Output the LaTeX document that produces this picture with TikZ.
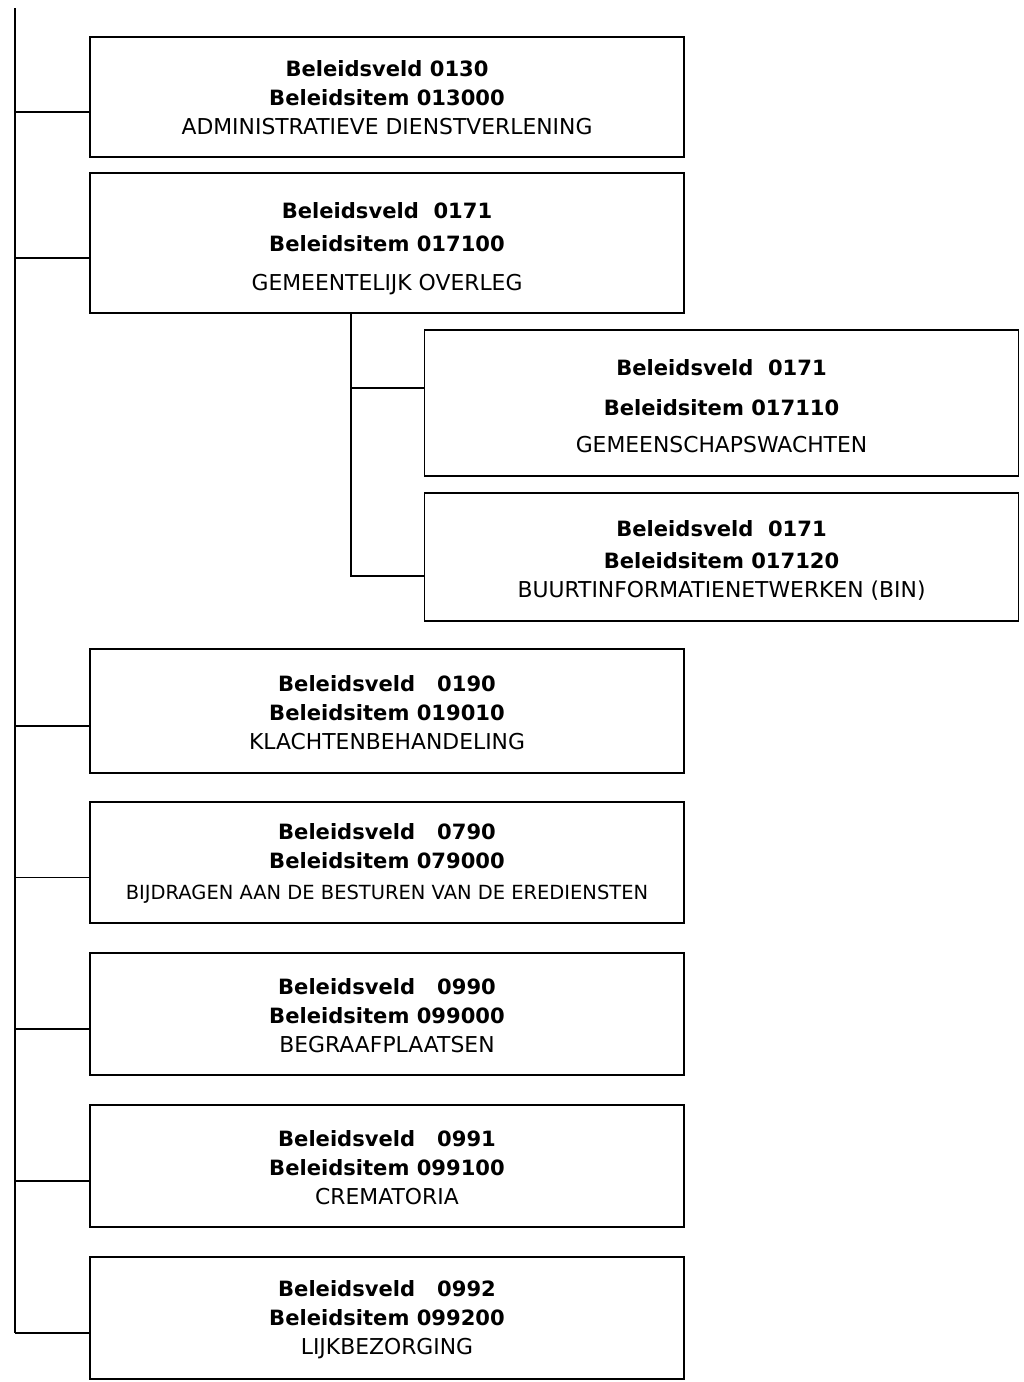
\documentclass[tikz,border=0pt]{standalone}
\usepackage{fontspec}
\setmainfont{DejaVu Sans}
\usepackage{tikz}
\usetikzlibrary{calc}
\usetikzlibrary{positioning}

\newcommand{\kop}[1]{{\fontsize{15.8}{21.75}\selectfont\bfseries #1}}
\newcommand{\zak}[1]{\rule{0pt}{#1}}

\begin{document}
\begin{tikzpicture}[x=0.75pt, y=-0.75pt,
    font=\fontsize{16.4}{21.75}\selectfont,
    box/.style={draw, line width=1.4pt, rectangle, minimum width=445.5pt, align=center, inner sep=0pt},
    tak/.style={line width=1.4pt}]
    \useasboundingbox (0,0) rectangle (1024,1382);
    % hoofdposten
    \node[box, minimum height=90pt] (b1) at (387,97) {\zak{13pt}\kop{Beleidsveld 0130}\\ \kop{Beleidsitem 013000}\\ ADMINISTRATIEVE DIENSTVERLENING};
    \node[box, minimum height=105pt] (b2) at (387,243) {\zak{21pt}\kop{Beleidsveld~~0171}\\[3pt] \kop{Beleidsitem 017100}\\[7.5pt] GEMEENTELIJK OVERLEG};
    % subposten van 0171
    \node[box, minimum height=109.5pt] (b3) at (721.5,403) {\zak{16.5pt}\kop{Beleidsveld~~0171}\\[8.25pt] \kop{Beleidsitem 017110}\\[6pt] GEMEENSCHAPSWACHTEN};
    \node[box, minimum height=96pt] (b4) at (721.5,557) {\zak{16.5pt}\kop{Beleidsveld~~0171}\\[2.25pt] \kop{Beleidsitem 017120}\\ BUURTINFORMATIENETWERKEN (BIN)};
    % overige posten
    \node[box, minimum height=93pt] (b5) at (387,711) {\zak{14pt}\kop{Beleidsveld~~~0190}\\ \kop{Beleidsitem 019010}\\ KLACHTENBEHANDELING};
    \node[box, minimum height=90.75pt] (b6) at (387,862.5) {\zak{14pt}\kop{Beleidsveld~~~0790}\\ \kop{Beleidsitem 079000}\\[1.5pt] {\fontsize{14.6}{17}\selectfont BIJDRAGEN AAN DE BESTUREN VAN DE EREDIENSTEN}};
    \node[box, minimum height=91.5pt] (b7) at (387,1014) {\zak{14pt}\kop{Beleidsveld~~~0990}\\ \kop{Beleidsitem 099000}\\ BEGRAAFPLAATSEN};
    \node[box, minimum height=91.5pt] (b8) at (387,1166) {\zak{14pt}\kop{Beleidsveld~~~0991}\\ \kop{Beleidsitem 099100}\\ CREMATORIA};
    \node[box, minimum height=91.5pt] (b9) at (387,1318) {\zak{15pt}\kop{Beleidsveld~~~0992}\\ \kop{Beleidsitem 099200}\\ LIJKBEZORGING};
    % aansluitpunten
    \foreach \i in {1,2,5,6,7,8,9} {
        \coordinate (j\i) at ([yshift=-11.25pt]b\i.west);
    }
    \coordinate (j3) at ([yshift=11.25pt]b3.west);
    \coordinate (j4) at ([yshift=-14.25pt]b4.west);
    % hoofdlijn
    \coordinate (top) at (15,8);
    \draw[tak] (top) -- (j9 -| top);
    \foreach \i in {1,2,5,6,7,8,9} {
        \draw[tak] (j\i -| top) -- (j\i);
    }
    % sublijn
    \coordinate (sx) at (351,0);
    \coordinate (sub) at (sx |- b2.south);
    \draw[tak] (sub) |- (j4);
    \draw[tak] (j3 -| sub) -- (j3);
\end{tikzpicture}
\end{document}
